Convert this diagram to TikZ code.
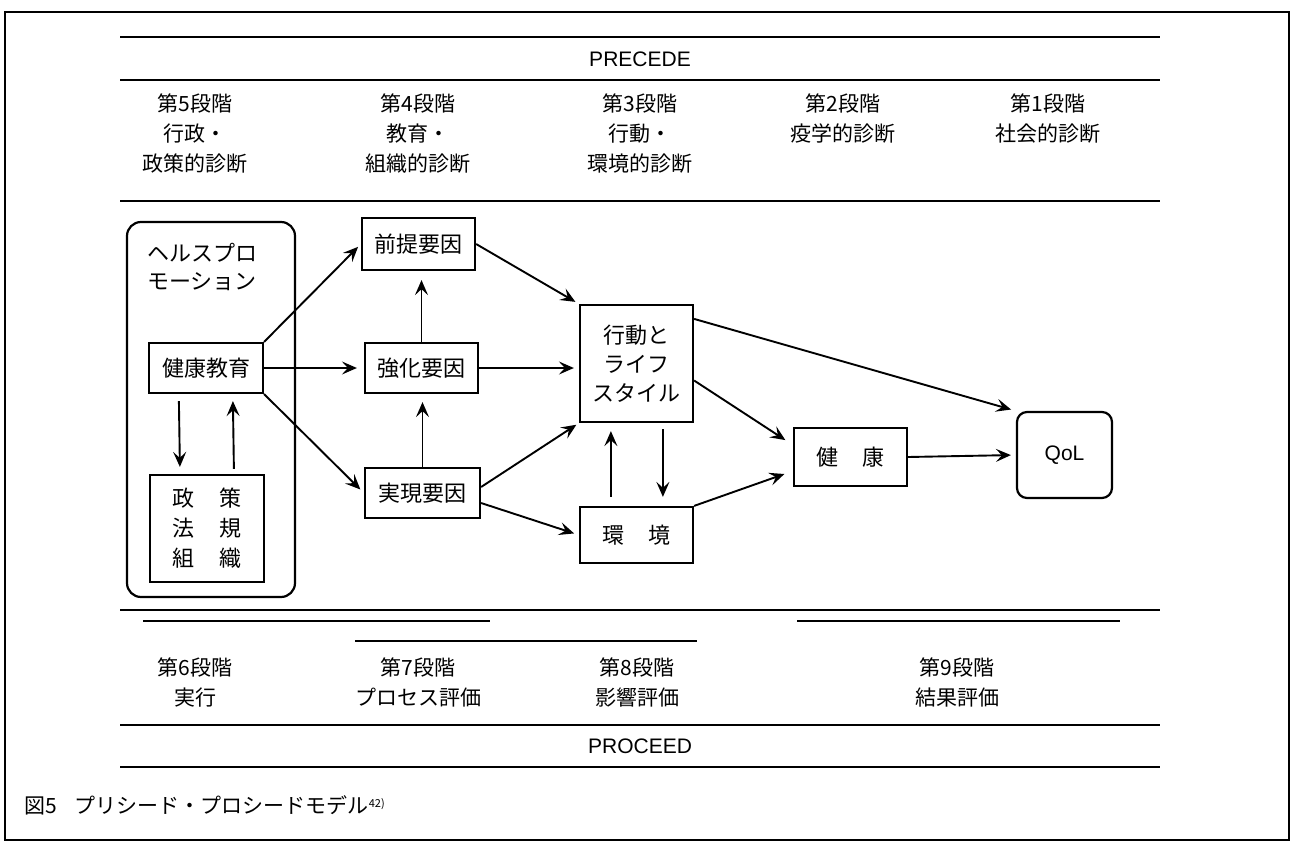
\documentclass[tikz,border=0pt]{standalone}
\usepackage{fontspec}
\setmainfont{Liberation Sans}
\newfontfamily\jp{Noto Sans CJK JP}
\usetikzlibrary{arrows.meta}
\tikzset{
  px/.style={x=1pt,y=-1pt},
  rule/.style={line width=2.2pt},
  bx/.style={draw,line width=2.2pt,rectangle,inner sep=0pt,font=\jp\fontsize{22}{29}\selectfont,align=center},
  lbl/.style={inner sep=0pt,font=\jp\fontsize{21}{30}\selectfont,align=center},
  arr/.style={line width=1.9pt,-{Stealth[length=15pt,width=13pt,inset=6pt]}},
}
\begin{document}
\begin{tikzpicture}[px]
\useasboundingbox (0,0) rectangle (1293,843);
% frame
\draw[rule] (5,12) rectangle (1289,840);
% PRECEDE header
\draw[rule] (120,37) -- (1160,37);
\draw[rule] (120,80) -- (1160,80);
\node[inner sep=0pt,font=\fontsize{21}{25}\selectfont] (precede) at (640,59) {PRECEDE};
\node[lbl,anchor=north] (s5) at (195,94) {第5段階\\行政・\\政策的診断};
\node[lbl,anchor=north] (s4) at (418,94) {第4段階\\教育・\\組織的診断};
\node[lbl,anchor=north] (s3) at (640,94) {第3段階\\行動・\\環境的診断};
\node[lbl,anchor=north] (s2) at (843,94) {第2段階\\疫学的診断};
\node[lbl,anchor=north] (s1) at (1048,94) {第1段階\\社会的診断};
\draw[rule] (120,201) -- (1160,201);
% health promotion group
\node[draw,line width=2.2pt,rounded corners=14pt,minimum width=168pt,minimum height=375pt,inner sep=0pt] (hp) at (211,409.5) {};
\node[inner sep=0pt,anchor=west,font=\jp\fontsize{22}{29}\selectfont] (hpa) at (147,253) {ヘルスプロ};
\node[inner sep=0pt,anchor=west,font=\jp\fontsize{22}{29}\selectfont] (hpb) at (147,282) {モーション};
\node[bx,minimum width=114pt,minimum height=50pt] (kk) at (206,368) {健康教育};
\node[bx,minimum width=114pt,minimum height=107pt,font=\jp\fontsize{22}{30}\selectfont] (ss) at (207,528.5) {政\hspace{26pt}策\\法\hspace{26pt}規\\組\hspace{26pt}織};
% factors
\node[bx,minimum width=113pt,minimum height=52pt] (zt) at (418.5,244) {前提要因};
\node[bx,minimum width=113pt,minimum height=50pt] (kh) at (421.5,368) {強化要因};
\node[bx,minimum width=115pt,minimum height=50pt] (jg) at (422.5,493) {実現要因};
\node[bx,minimum width=113pt,minimum height=117pt] (kd) at (636.5,363.5) {行動と\\ライフ\\スタイル};
\node[bx,minimum width=113pt,minimum height=56pt] (kj) at (636.5,535) {環\hspace{24pt}境};
\node[bx,minimum width=113pt,minimum height=58pt] (ke) at (850.5,457) {健\hspace{24pt}康};
\node[bx,rounded corners=10pt,minimum width=95pt,minimum height=86pt,font=\fontsize{21}{25}\selectfont] (qol) at (1064.5,455) {QoL};
% arrows
\draw[arr,shorten >=4pt] (kk.north east) -- (zt.west);
\draw[arr,shorten >=7pt] (kk.east) -- (kk.east -| kh.west);
\draw[arr,shorten >=5pt] (kk.south east) -- (jg.west);
\draw[arr,shorten >=9pt] (kh.north) -- (kh.north |- zt.south);
\draw[arr,shorten >=8pt] (jg.north) -- (jg.north |- kh.south);
\draw[arr] ([xshift=31pt,yshift=-7pt]kk.south west) -- ([xshift=31pt,yshift=7pt]ss.north west);
\draw[arr] ([xshift=85pt,yshift=5pt]ss.north west) -- ([xshift=85pt,yshift=-7pt]kk.south west);
\draw[arr,shorten >=4pt] (zt.east) -- (kd.north west);
\draw[arr,shorten >=5pt] (kh.east) -- (kh.east -| kd.west);
\draw[arr,shorten >=3pt] ([yshift=6pt]jg.east) -- (kd.south west);
\draw[arr,shorten >=5pt] ([yshift=-10pt]jg.east) -- (kj.west);
\draw[arr,shorten >=5pt] ([yshift=-15pt]kd.north east) -- (qol.north west);
\draw[arr,shorten >=9pt] ([yshift=-17pt]kd.east) -- ([yshift=12pt]ke.west);
\draw[arr,shorten >=9pt] (kj.north east) -- ([yshift=-14pt]ke.west);
\draw[arr] ([xshift=84pt,yshift=-6pt]kd.south west) -- ([xshift=84pt,yshift=9pt]kj.north west);
\draw[arr] ([xshift=32pt,yshift=9pt]kj.north west) -- ([xshift=32pt,yshift=-8pt]kd.south west);
\draw[arr,shorten >=5pt] (ke.east) -- (qol.west);
% PROCEED
\draw[rule] (120,610) -- (1160,610);
\draw[rule] (143,621) -- (490,621);
\draw[rule] (355,641) -- (697,641);
\draw[rule] (797,621) -- (1120,621);
\node[lbl,anchor=north] (s6) at (195,658) {第6段階\\実行};
\node[lbl,anchor=north] (s7) at (418,658) {第7段階\\プロセス評価};
\node[lbl,anchor=north] (s8) at (637,658) {第8段階\\影響評価};
\node[lbl,anchor=north] (s9) at (957,658) {第9段階\\結果評価};
\draw[rule] (120,725) -- (1160,725);
\node[inner sep=0pt,font=\fontsize{21}{25}\selectfont] (proceed) at (640,746) {PROCEED};
\draw[rule] (120,767) -- (1160,767);
\node[inner sep=0pt,anchor=west,font=\jp\fontsize{21}{25}\selectfont] (cap) at (24,805) {図5\hspace{18pt}プリシード・プロシードモデル\raisebox{6pt}{\fontsize{11}{12}\selectfont 42)}};
\end{tikzpicture}
\end{document}
